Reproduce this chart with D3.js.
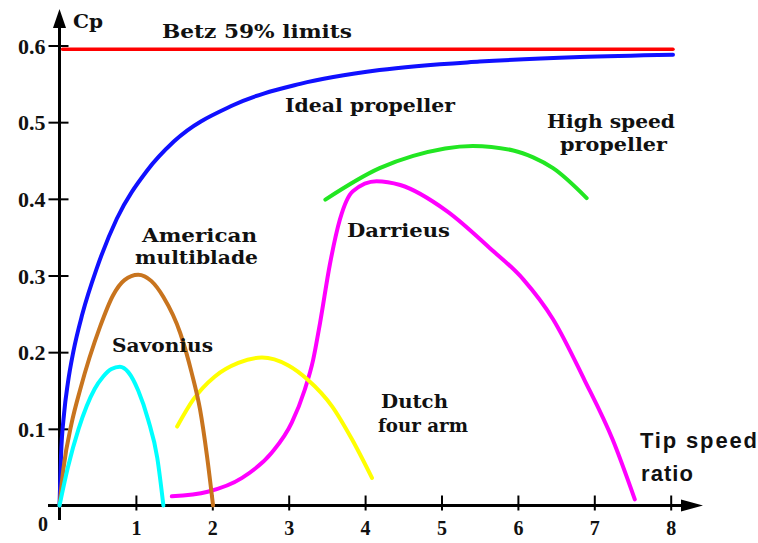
<!DOCTYPE html>
<html><head><meta charset="utf-8">
<script src="https://cdn.jsdelivr.net/npm/d3@7"></script>
<style>html,body{margin:0;padding:0;background:#fff}svg{display:block}</style>
</head><body>
<script>
// ---- data ----
const xTicks = [1,2,3,4,5,6,7,8];
const yTicks = [0.1,0.2,0.3,0.4,0.5,0.6];
const betzX = [0.04, 8.03];
const betzY = [0.595, 0.595];
const idealX = [0, 0.02, 0.06, 0.11, 0.18, 0.3, 0.49, 0.75, 1.14, 1.5, 2.27, 3.15, 4.19, 5.5, 6.81, 8.03];
const idealY = [0, 0.065, 0.12, 0.16, 0.2, 0.25, 0.31, 0.374, 0.436, 0.475, 0.522, 0.550, 0.568, 0.579, 0.585, 0.588];
const americanX = [0, 0.05, 0.16, 0.27, 0.53, 0.7, 0.85, 1.03, 1.2, 1.36, 1.58, 1.73, 1.84, 1.93, 2.01];
const americanY = [0, 0.047, 0.108, 0.151, 0.233, 0.274, 0.294, 0.301, 0.293, 0.272, 0.225, 0.173, 0.125, 0.065, 0.0];
const savoniusX = [0, 0.11, 0.25, 0.46, 0.57, 0.68, 0.79, 0.9, 1.03, 1.16, 1.28, 1.36];
const savoniusY = [0, 0.05, 0.1, 0.152, 0.168, 0.178, 0.181, 0.174, 0.15, 0.112, 0.062, 0.0];
const dutchX = [1.54, 1.75, 2.03, 2.34, 2.65, 2.99, 3.25, 3.57, 3.83, 4.09];
const dutchY = [0.103, 0.138, 0.168, 0.186, 0.193, 0.183, 0.164, 0.129, 0.086, 0.036];
const darrieusX = [1.47, 1.94, 2.39, 2.78, 3.04, 3.21, 3.32, 3.41, 3.54, 3.67, 3.84, 4.15, 4.46, 5.07, 5.63, 6.07, 6.46, 6.87, 7.24, 7.53];
const darrieusY = [0.012, 0.018, 0.036, 0.069, 0.108, 0.151, 0.19, 0.238, 0.315, 0.373, 0.41, 0.423, 0.418, 0.384, 0.336, 0.295, 0.243, 0.164, 0.086, 0.008];
const highX = [3.48, 4.19, 4.63, 5.41, 5.94, 6.2, 6.46, 6.9];
const highY = [0.399, 0.44, 0.456, 0.469, 0.463, 0.454, 0.44, 0.401];

const series = [
  {x: betzX, y: betzY, color: "#ff0000", w: 3.5},
  {x: idealX, y: idealY, color: "#1010ff", w: 4},
  {x: highX, y: highY, color: "#22e622", w: 4},
  {x: darrieusX, y: darrieusY, color: "#ff00ff", w: 4},
  {x: dutchX, y: dutchY, color: "#ffff00", w: 4},
  {x: americanX, y: americanY, color: "#c8741e", w: 4},
  {x: savoniusX, y: savoniusY, color: "#00ffff", w: 4}
];

const labels = [
  {t: "Cp", x: 73, y: 28, w: 30},
  {t: "Betz 59% limits", x: 162, y: 38, w: 190},
  {t: "Ideal propeller", x: 285, y: 112, w: 170},
  {t: "High speed", x: 547, y: 128, w: 128},
  {t: "propeller", x: 560, y: 151, w: 107},
  {t: "American", x: 142, y: 242, w: 115},
  {t: "multiblade", x: 135, y: 264, w: 123},
  {t: "Savonius", x: 112, y: 352, w: 101},
  {t: "Darrieus", x: 347, y: 237, w: 103},
  {t: "Dutch", x: 381, y: 408, w: 67},
  {t: "four arm", x: 378, y: 432, w: 90}
];

const W = 758, H = 543;
const svg = d3.select("body").append("svg").attr("width", W).attr("height", H);
svg.append("rect").attr("width", W).attr("height", H).attr("fill", "#fff");

const x = d3.scaleLinear().domain([0, 8]).range([59.5, 670.7]);
const y = d3.scaleLinear().domain([0, 0.6]).range([505.5, 45.5]);

// axes
const yAxis = svg.append("g").attr("transform", `translate(${x(0)},0)`)
  .call(d3.axisLeft(y).tickValues(yTicks).tickFormat(d3.format(".1f")).tickSize(10));
yAxis.select(".domain").remove();
yAxis.selectAll(".tick line").attr("x1", -11).attr("x2", 9).attr("stroke", "#000").attr("stroke-width", 2);
yAxis.selectAll(".tick text").attr("x", -14).attr("dy", "0.35em")
  .style("font-family", "'Liberation Serif', serif").style("font-weight", "bold").style("font-size", "22px").attr("fill", "#111");

const xAxis = svg.append("g").attr("transform", `translate(0,${y(0)})`)
  .call(d3.axisBottom(x).tickValues(xTicks).tickFormat(d3.format("d")).tickSize(5));
xAxis.select(".domain").remove();
xAxis.selectAll(".tick line").attr("y1", -10).attr("y2", 5).attr("stroke", "#000").attr("stroke-width", 2);
xAxis.selectAll(".tick text").attr("y", 29).attr("dy", 0)
  .style("font-family", "'Liberation Serif', serif").style("font-weight", "bold").style("font-size", "20px").attr("fill", "#111");

// axis lines with arrows
svg.append("line").attr("x1", x(0)).attr("x2", x(0)).attr("y1", 520).attr("y2", 22)
  .attr("stroke", "#000").attr("stroke-width", 3);
svg.append("path").attr("d", `M${x(0)},9 L${x(0)-6.5},28 L${x(0)+6.5},28 Z`).attr("fill", "#000");
svg.append("line").attr("x1", 48).attr("x2", 690).attr("y1", y(0)).attr("y2", y(0))
  .attr("stroke", "#000").attr("stroke-width", 3);
svg.append("path").attr("d", `M703,${y(0)} L681,${y(0)-6} L681,${y(0)+6} Z`).attr("fill", "#000");

svg.append("text").attr("x", 43).attr("y", 531).attr("text-anchor", "middle")
  .style("font-family", "'Liberation Serif', serif").style("font-weight", "bold").style("font-size", "20px").attr("fill", "#111").text("0");

// curves
const line = d3.line().x(d => x(d[0])).y(d => y(d[1])).curve(d3.curveMonotoneX);
series.forEach(s => {
  const pts = s.x.map((v, i) => [v, s.y[i]]);
  svg.append("path").datum(pts)
    .attr("d", line)
    .attr("fill", "none").attr("stroke", s.color).attr("stroke-width", s.w)
    .attr("stroke-linecap", "round").attr("stroke-linejoin", "round");
});

// labels
labels.forEach(l => {
  svg.append("text").attr("x", l.x).attr("y", l.y)
    .attr("textLength", l.w).attr("lengthAdjust", "spacingAndGlyphs")
    .style("font-family", "'DejaVu Serif', serif").style("font-weight", "bold").style("font-size", "19px")
    .attr("fill", "#111").text(l.t);
});
svg.append("text").attr("x", 640).attr("y", 448).attr("textLength", 117).attr("lengthAdjust", "spacing")
  .style("font-family", "'Liberation Sans', Arial, sans-serif").style("font-weight", "bold").style("font-size", "22px")
  .attr("fill", "#111").text("Tip speed");
svg.append("text").attr("x", 641).attr("y", 481).attr("textLength", 52).attr("lengthAdjust", "spacing")
  .style("font-family", "'Liberation Sans', Arial, sans-serif").style("font-weight", "bold").style("font-size", "22px")
  .attr("fill", "#111").text("ratio");
</script>
</body></html>
